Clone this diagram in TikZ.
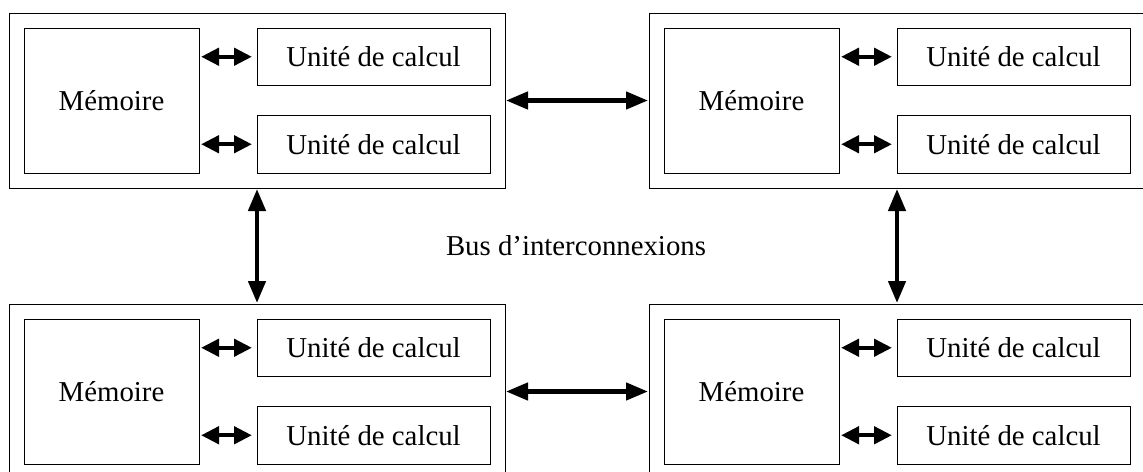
\documentclass[tikz,border=0pt]{standalone}
\usepackage{fontspec}
\setmainfont{Liberation Serif}
\usetikzlibrary{
  arrows.meta,
  fit,
  positioning,
}
\tikzset{
  mem box/.style = {
    draw,
    line width=0.5pt,
    minimum width=87.5pt,
    minimum height=72.5pt,
    inner sep=0pt,
    outer sep=0pt
  },
  unit box/.style = {
    draw,
    line width=0.5pt,
    minimum width=116.5pt,
    minimum height=28.75pt,
    inner sep=0pt,
    outer sep=0pt
  },
  node box/.style = {
    draw,
    line width=0.5pt,
    inner sep=7.5pt,
    outer sep=0pt
  },
  small link/.style = {
    {Triangle[length=9pt,width=8.5pt]}-{Triangle[length=9pt,width=8.5pt]},
    line width=2.2pt,
    shorten <=1pt,
    shorten >=2.5pt
  },
  bus link/.style = {
    {Triangle[length=11pt,width=8.5pt]}-{Triangle[length=11pt,width=8.5pt]},
    line width=2.2pt,
    shorten <=0.5pt,
    shorten >=0.5pt
  },
}

\begin{document}
\begin{tikzpicture}[x=0.5pt, y=-0.5pt, font=\fontsize{14.4}{17}\selectfont]
  \useasboundingbox (0,0) rectangle (1143,471);
  \clip (0,0) rectangle (1143,471);
  %% the four computing nodes
  \foreach \n/\px/\py in {1/111.5/100.5, 2/751.5/100.5, 3/111.5/391.5, 4/751.5/391.5} {
    \node (mem\n) [mem box] at (\px,\py) {Mémoire};
    \node (ua\n) [unit box, right=29pt of mem\n.north east, anchor=north west] {Unité de calcul};
    \node (ub\n) [unit box, right=29pt of mem\n.south east, anchor=south west] {Unité de calcul};
    \node (pe\n) [node box, fit=(mem\n)(ua\n)(ub\n)] {};
    \draw[small link] (ua\n.west -| mem\n.east) -- (ua\n.west);
    \draw[small link] (ub\n.west -| mem\n.east) -- (ub\n.west);
  }
  %% interconnection bus
  \node (bus) at (576,246) {Bus d'interconnexions};
  \draw[bus link] (pe1.east) -- (pe2.west);
  \draw[bus link] (pe3.east) -- (pe4.west);
  \draw[bus link] (pe1.south) -- (pe3.north);
  \draw[bus link] (pe2.south) -- (pe4.north);
\end{tikzpicture}
\end{document}
